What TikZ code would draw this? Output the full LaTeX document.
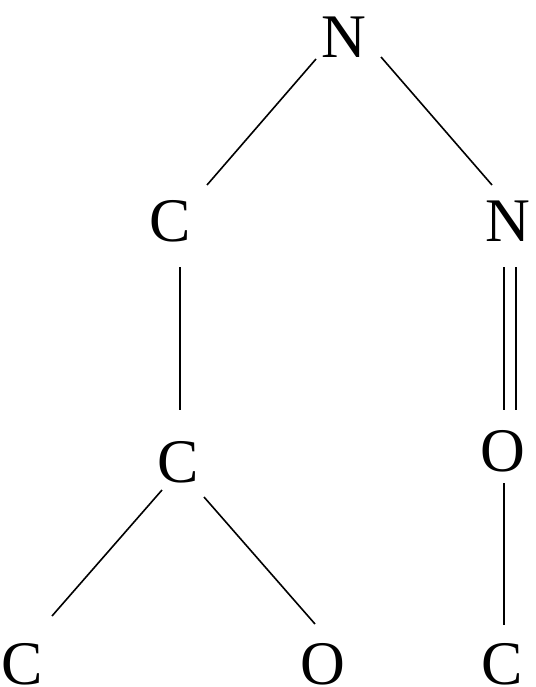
\documentclass[tikz,border=0pt]{standalone}
\usepackage{fontspec}
\setmainfont{Liberation Serif}
\usepackage{tikz}
\usetikzlibrary{positioning}
\tikzset{atom/.style={font=\fontsize{62}{64}\selectfont, inner sep=0pt}, bond/.style={line width=1.6pt}}

\begin{document}
\begin{tikzpicture}[x=1pt, y=-1pt]
    \useasboundingbox (0, 0) rectangle (535, 687);
    \node[atom] (n1) at (344, 37) {N};
    \node[atom] (c1) at (170, 221) {C};
    \node[atom] (n2) at (508, 221) {N};
    \node[atom] (c2) at (178, 462) {C};
    \node[atom] (o1) at (503, 451) {O};
    \node[atom] (c3) at (22, 664) {C};
    \node[atom] (o2) at (323, 664) {O};
    \node[atom] (c4) at (502, 664) {C};

    \draw[bond] ([shift={(-28, 22)}]n1.center) -- ([shift={(37, -36)}]c1.center);
    \draw[bond] ([shift={(37, 20)}]n1.center) -- ([shift={(-16, -36)}]n2.center);
    \draw[bond] ([shift={(10, 46)}]c1.center) -- ([shift={(2, -52)}]c2.center);
    \draw[bond] ([shift={(-4, 46)}]n2.center) -- ([shift={(1, -41)}]o1.center);
    \draw[bond] ([shift={(8, 46)}]n2.center) -- ([shift={(13, -41)}]o1.center);
    \draw[bond] ([shift={(-16, 28)}]c2.center) -- ([shift={(30, -48)}]c3.center);
    \draw[bond] ([shift={(26, 35)}]c2.center) -- ([shift={(-8, -40)}]o2.center);
    \draw[bond] ([shift={(1, 32)}]o1.center) -- ([shift={(2, -39)}]c4.center);
\end{tikzpicture}
\end{document}
